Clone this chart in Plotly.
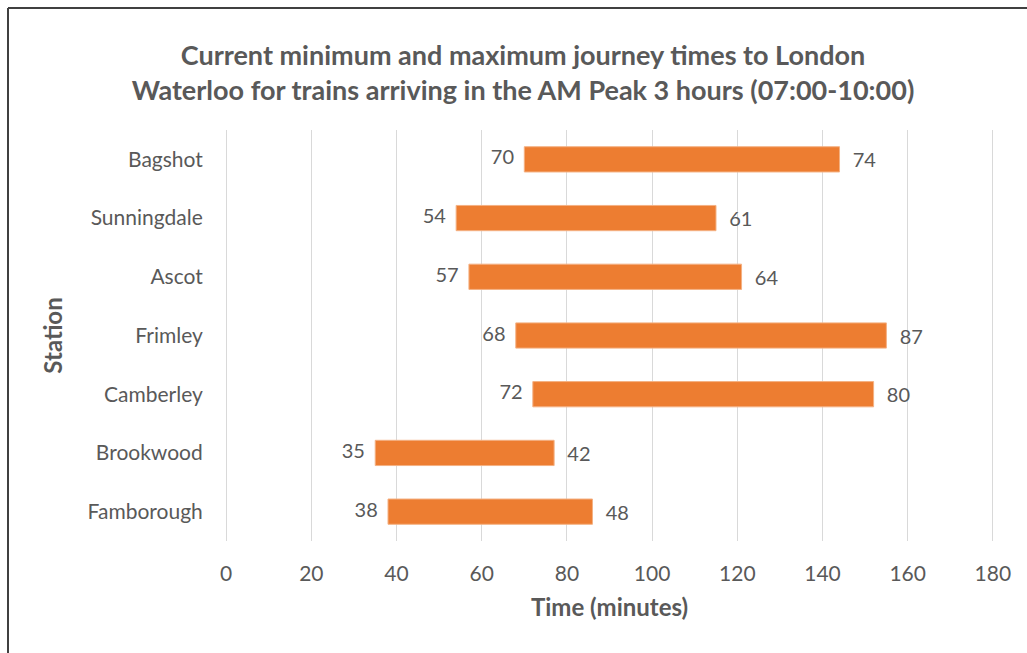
import plotly.graph_objects as go

stations = ["Bagshot", "Sunningdale", "Ascot", "Frimley", "Camberley", "Brookwood", "Famborough"]
min_times = [70, 54, 57, 68, 72, 35, 38]
max_times = [74, 61, 64, 87, 80, 42, 48]
x_ticks = [0, 20, 40, 60, 80, 100, 120, 140, 160, 180]

FONT = "Lato"
GREY = "#595959"

fig = go.Figure()
fig.add_trace(go.Bar(
    y=stations, x=max_times, base=min_times, orientation="h",
    marker=dict(color="#ED7D31", line=dict(color="#F4B183", width=1)),
    width=0.43,
    text=["  " + str(v) for v in max_times], textposition="outside",
    textfont=dict(family=FONT, size=20, color=GREY),
    cliponaxis=False, hoverinfo="skip",
))
fig.add_trace(go.Scatter(
    y=stations, x=min_times, mode="text",
    text=[str(v) + "  " for v in min_times], textposition="middle left",
    textfont=dict(family=FONT, size=20, color=GREY),
    cliponaxis=False, hoverinfo="skip",
))

L, R, T, B = 224, 32, 130, 112
W, H = 1027, 653
pw, ph = W - L - R, H - T - B

fig.update_layout(
    width=W, height=H,
    margin=dict(l=L, r=R, t=T, b=B),
    paper_bgcolor="white", plot_bgcolor="white",
    showlegend=False,
    title=dict(
        text="Current minimum and maximum journey times to London<br>Waterloo for trains arriving in the AM Peak 3 hours (07:00-10:00)",
        x=523 / W, xanchor="center", y=1 - 65 / H, yanchor="middle",
        font=dict(family=FONT, size=27, color=GREY, weight="bold"),
    ),
    xaxis=dict(
        range=[-0.5, 180.5], tickvals=x_ticks, showgrid=True, gridcolor="#D9D9D9", gridwidth=1,
        zeroline=False, showline=False, ticks="outside", ticklen=14, tickcolor="rgba(0,0,0,0)",
        tickfont=dict(family=FONT, size=21, color=GREY),
        title=dict(text="Time (minutes)", font=dict(family=FONT, size=24, color=GREY, weight="bold"), standoff=14),
    ),
    yaxis=dict(
        categoryorder="array", categoryarray=stations, autorange="reversed",
        showgrid=False, zeroline=False, showline=False, ticks="outside", ticklen=16, tickcolor="rgba(0,0,0,0)",
        tickfont=dict(family=FONT, size=21, color=GREY),
        title=dict(text="Station", font=dict(family=FONT, size=24, color=GREY, weight="bold"), standoff=18),
    ),
    shapes=[
        dict(type="line", xref="paper", yref="paper",
             x0=(8 - L) / pw, x1=(8 - L) / pw, y0=1 + (T - 8) / ph, y1=-(B + 5) / ph,
             line=dict(color="#404040", width=2)),
        dict(type="line", xref="paper", yref="paper",
             x0=(8 - L) / pw, x1=1 + (R + 5) / pw, y0=1 + (T - 8) / ph, y1=1 + (T - 8) / ph,
             line=dict(color="#404040", width=2)),
    ],
)

fig.write_html("out.html")
